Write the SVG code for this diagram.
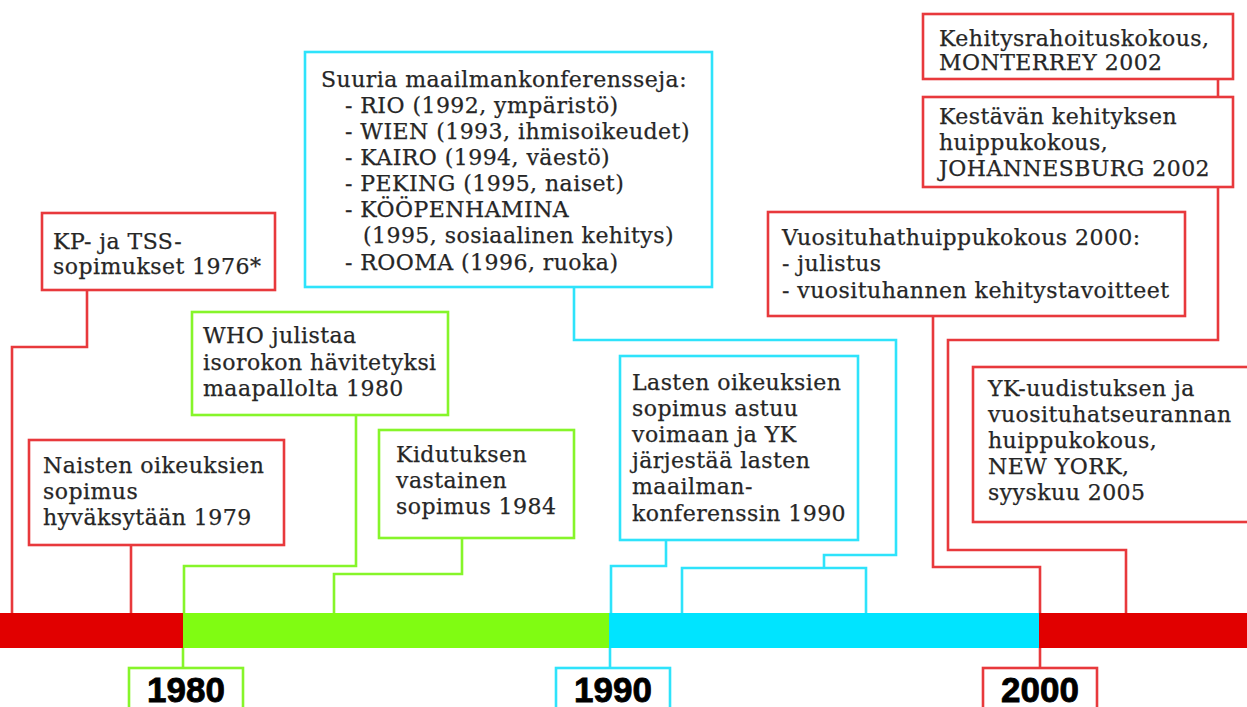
<svg xmlns="http://www.w3.org/2000/svg" width="1247" height="707" viewBox="0 0 1247 707">
<style>
.box{fill:#fff;stroke-width:2.6}
.r{stroke:#e8393c}
.g{stroke:#86f52a}
.c{stroke:#2ee3fb}
.t{font-family:"DejaVu Serif",serif;font-size:22px;letter-spacing:0.45px;fill:#262626;stroke:#262626;stroke-width:0.25}
.yr{font-family:"Liberation Sans",Arial,sans-serif;font-size:35px;font-weight:bold;fill:#000;stroke:#000;stroke-width:0.8;text-anchor:middle}
.ln{fill:none;stroke-width:2.6}
</style>
<rect width="1247" height="707" fill="#fff"/>

<g id="connectors">
  <path class="ln r" d="M87,290 V347 H12 V614"/>
  <path class="ln r" d="M131,545 V614"/>
  <path class="ln g" d="M356,415 V566 H184 V614"/>
  <path class="ln g" d="M462,538 V574 H334 V614"/>
  <path class="ln c" d="M574,287 V340 H896 V555 H824 V568"/>
  <path class="ln c" d="M682,614 V568 H866 V614"/>
  <path class="ln c" d="M666,540 V566 H611 V614"/>
  <path class="ln r" d="M933,316 V567 H1040 V614"/>
  <path class="ln r" d="M1218,79 V97"/>
  <path class="ln r" d="M1218,187 V340 H948 V550 H1126 V614"/>
  <path class="ln g" d="M183,648 V668"/>
  <path class="ln c" d="M610,648 V668"/>
  <path class="ln r" d="M1040,648 V668"/>
</g>

<g id="timeline">
  <rect x="0" y="613" width="184" height="35" fill="#e10000"/>
  <rect x="183" y="613" width="427" height="35" fill="#80fc12"/>
  <rect x="609" y="613" width="431" height="35" fill="#00e4ff"/>
  <rect x="1039" y="613" width="208" height="35" fill="#e10000"/>
</g>

<g id="n-kp">
  <rect class="box r" x="42" y="213" width="233" height="77"/>
  <text class="t"><tspan x="53" y="249">KP- ja TSS-</tspan><tspan x="53" y="274">sopimukset 1976*</tspan></text>
</g>

<g id="n-naisten">
  <rect class="box r" x="29" y="440" width="255" height="105"/>
  <text class="t"><tspan x="43" y="473">Naisten oikeuksien</tspan><tspan x="43" y="499">sopimus</tspan><tspan x="43" y="525">hyväksytään 1979</tspan></text>
</g>

<g id="n-who">
  <rect class="box g" x="192" y="312" width="256" height="103"/>
  <text class="t"><tspan x="203" y="343">WHO julistaa</tspan><tspan x="203" y="370">isorokon hävitetyksi</tspan><tspan x="203" y="396">maapallolta 1980</tspan></text>
</g>

<g id="n-kidutus">
  <rect class="box g" x="379" y="430" width="195" height="108"/>
  <text class="t"><tspan x="396" y="462">Kidutuksen</tspan><tspan x="396" y="488">vastainen</tspan><tspan x="396" y="514">sopimus 1984</tspan></text>
</g>

<g id="n-suuria">
  <rect class="box c" x="305" y="52" width="407" height="235"/>
  <text class="t">
    <tspan x="321" y="87">Suuria maailmankonferensseja:</tspan>
    <tspan x="345" y="113">- RIO (1992, ympäristö)</tspan>
    <tspan x="345" y="139">- WIEN (1993, ihmisoikeudet)</tspan>
    <tspan x="345" y="165">- KAIRO (1994, väestö)</tspan>
    <tspan x="345" y="191">- PEKING (1995, naiset)</tspan>
    <tspan x="345" y="217">- KÖÖPENHAMINA</tspan>
    <tspan x="363" y="243">(1995, sosiaalinen kehitys)</tspan>
    <tspan x="345" y="270">- ROOMA (1996, ruoka)</tspan>
  </text>
</g>

<g id="n-lasten">
  <rect class="box c" x="620" y="356" width="238" height="184"/>
  <text class="t">
    <tspan x="632" y="390">Lasten oikeuksien</tspan>
    <tspan x="632" y="416">sopimus astuu</tspan>
    <tspan x="632" y="442">voimaan ja YK</tspan>
    <tspan x="632" y="468">järjestää lasten</tspan>
    <tspan x="632" y="494">maailman-</tspan>
    <tspan x="632" y="521">konferenssin 1990</tspan>
  </text>
</g>

<g id="n-vuosituhat">
  <rect class="box r" x="768" y="212" width="417" height="104"/>
  <text class="t"><tspan x="782" y="245">Vuosituhathuippukokous 2000:</tspan><tspan x="782" y="271">- julistus</tspan><tspan x="782" y="298">- vuosituhannen kehitystavoitteet</tspan></text>
</g>

<g id="n-monterrey">
  <rect class="box r" x="923" y="14" width="310" height="65"/>
  <text class="t"><tspan x="939" y="46">Kehitysrahoituskokous,</tspan><tspan x="939" y="70">MONTERREY 2002</tspan></text>
</g>

<g id="n-johannesburg">
  <rect class="box r" x="923" y="97" width="310" height="90"/>
  <text class="t"><tspan x="939" y="124">Kestävän kehityksen</tspan><tspan x="939" y="150">huippukokous,</tspan><tspan x="939" y="176">JOHANNESBURG 2002</tspan></text>
</g>

<g id="n-newyork">
  <rect class="box r" x="973" y="367" width="290" height="155"/>
  <text class="t"><tspan x="988" y="396">YK-uudistuksen ja</tspan><tspan x="988" y="422">vuosituhatseurannan</tspan><tspan x="988" y="448">huippukokous,</tspan><tspan x="988" y="474">NEW YORK,</tspan><tspan x="988" y="500">syyskuu 2005</tspan></text>
</g>

<g id="y1980">
  <rect class="box g" x="129" y="668" width="114" height="50"/>
  <text class="yr" x="186" y="702">1980</text>
</g>
<g id="y1990">
  <rect class="box c" x="556" y="668" width="114" height="50"/>
  <text class="yr" x="613" y="702">1990</text>
</g>
<g id="y2000">
  <rect class="box r" x="983" y="668" width="114" height="50"/>
  <text class="yr" x="1040" y="702">2000</text>
</g>
</svg>
